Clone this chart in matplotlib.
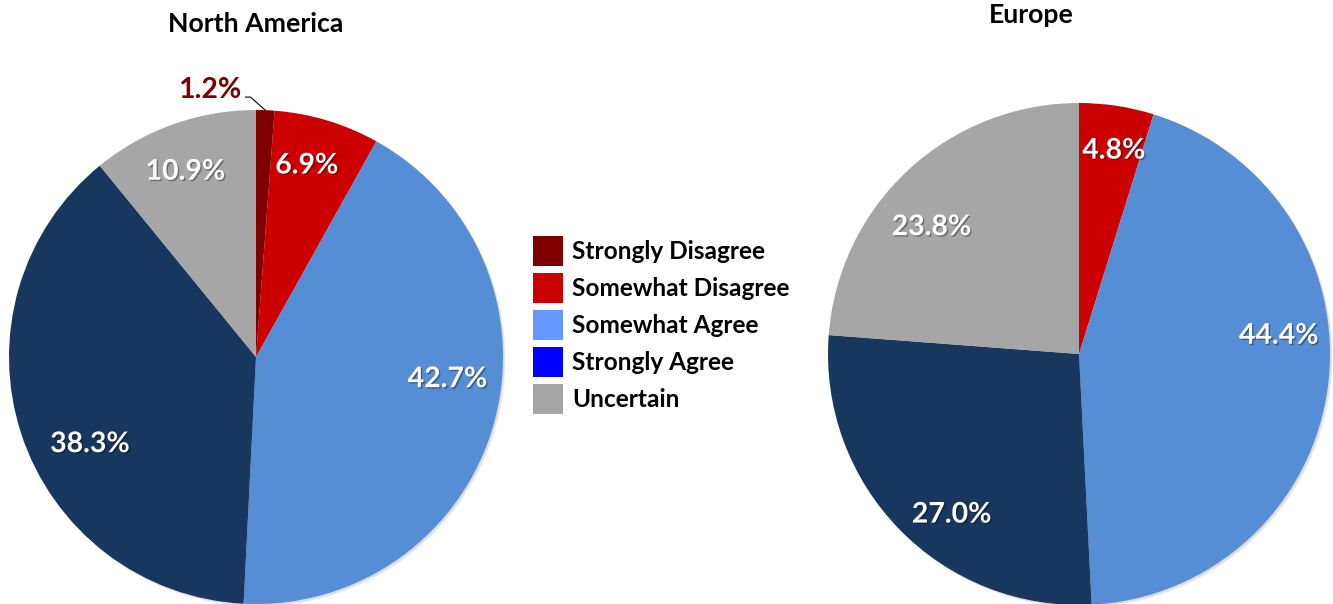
import numpy as np
import matplotlib
matplotlib.use("Agg")
import matplotlib.pyplot as plt
from matplotlib.patches import Patch
import matplotlib.patheffects as pe

# ---- data ----
categories = ["Strongly Disagree", "Somewhat Disagree", "Somewhat Agree",
              "Strongly Agree", "Uncertain"]
north_america = [1.2, 6.9, 42.7, 38.3, 10.9]
europe = [0.0, 4.8, 44.4, 27.0, 23.8]
titles = ["North America", "Europe"]

# ---- styles ----
slice_colors = ["#7F0000", "#CC0000", "#558ED5", "#17375E", "#A6A6A6"]
legend_colors = ["#7F0000", "#CC0000", "#6699FF", "#0000FF", "#A6A6A6"]
FONT = ["Lato", "DejaVu Sans"]
LABEL_FS = 20.5

W, H = 1333, 604
fig = plt.figure(figsize=(W / 100, H / 100), dpi=100)

def px_axes(cx, cy, r):
    return fig.add_axes([(cx - r) / W, (H - cy - r) / H, 2 * r / W, 2 * r / H])

shadow = [pe.SimplePatchShadow(offset=(1, -1), shadow_rgbFace="black", alpha=0.35),
          pe.Normal()]

def draw_pie(ax, values, ang_shift, rad, title, title_xy):
    wedges, _ = ax.pie(values, colors=slice_colors, startangle=90, counterclock=False,
                       radius=1, wedgeprops=dict(linewidth=0))
    ax.set_xlim(-1, 1)
    ax.set_ylim(-1, 1)
    ax.set_aspect("equal")
    ax.axis("off")
    # soft outer shadow
    for off, al in [(0.010, 0.25), (0.006, 0.35)]:
        ax.add_patch(plt.Circle((off, -off), 1.0, color="#BBBBBB", zorder=0,
                                alpha=al, clip_on=False, lw=0))
    for w in wedges:
        w.set_clip_on(False)
    for i, (w, v) in enumerate(zip(wedges, values)):
        if v <= 0:
            continue
        mid = np.deg2rad((w.theta1 + w.theta2) / 2)
        if ang_shift[i] is None:
            # outside label with leader line
            x0, y0 = np.cos(mid), np.sin(mid)
            ax.plot([x0, x0 - 0.06, x0 - 0.08], [y0, y0 + 0.053, y0 + 0.053],
                    color="black", lw=0.8, clip_on=False)
            ax.text(x0 - 0.095, y0 + 0.083, f"{v:.1f}%", ha="right", va="center",
                    fontsize=LABEL_FS, fontweight="bold", color="#7F0000", family=FONT)
            continue
        a = mid + np.deg2rad(ang_shift[i])
        ax.text(rad[i] * np.cos(a), rad[i] * np.sin(a) - 0.008, f"{v:.1f}%",
                ha="center", va="center", fontsize=LABEL_FS, fontweight="bold",
                color="white", family=FONT, path_effects=shadow)
    fig.text(title_xy[0] / W, 1 - title_xy[1] / H, title, ha="center", va="baseline",
             fontsize=19.2, fontweight="bold", family=FONT)

ax1 = px_axes(256, 357, 247)
draw_pie(ax1, north_america, [None, 2, 10, 9, 1], [0, 0.81, 0.78, 0.755, 0.81],
         titles[0], (256, 32))

ax2 = px_axes(1079, 354, 251)
draw_pie(ax2, europe, [None, -1, 13, 7, 6], [0, 0.83, 0.80, 0.81, 0.78],
         titles[1], (1031, 23))

fs = 17.6
handles = [Patch(facecolor=c, edgecolor="none") for c in legend_colors]
fig.legend(handles, categories, loc="upper left",
           bbox_to_anchor=(533 / W, 1 - 236 / H), frameon=False,
           prop=dict(family=FONT, weight="bold", size=fs),
           handlelength=1.23, handleheight=1.51, handletextpad=0.37,
           labelspacing=0.29, borderpad=0, borderaxespad=0)

fig.savefig("out.png", dpi=100)
